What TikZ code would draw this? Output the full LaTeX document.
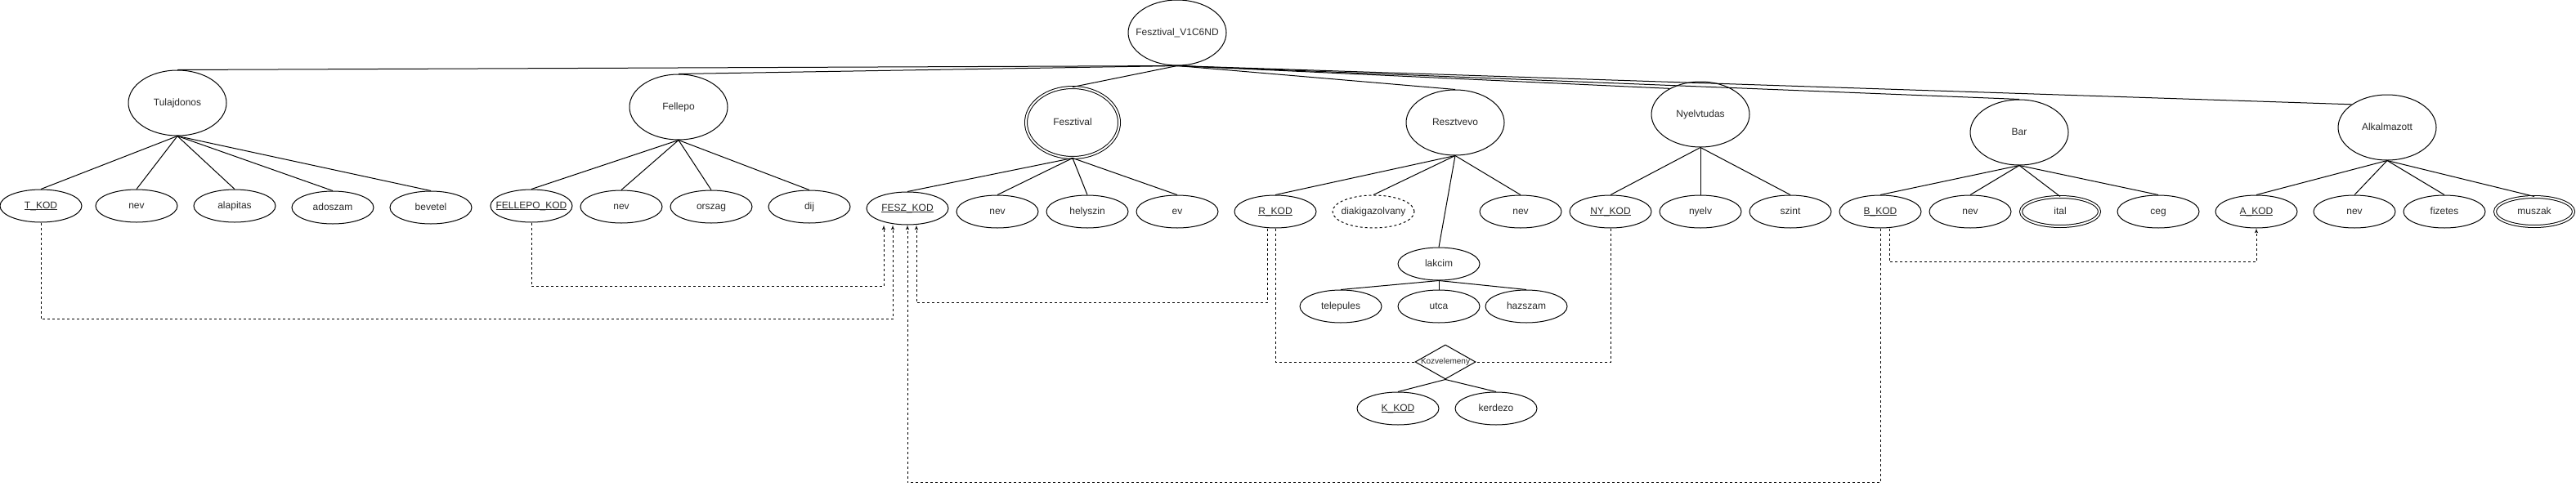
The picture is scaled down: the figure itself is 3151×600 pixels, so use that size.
\documentclass[tikz,border=0pt]{standalone}
\usepackage{fontspec}
\setmainfont{Liberation Sans}
\usetikzlibrary{arrows,shapes}
\definecolor{node_text}{RGB}{40,40,40}
\newcommand{\pk}[1]{\setbox0\hbox{#1}\rlap{\rule[-2.1pt]{\wd0}{0.8pt}}\box0}

\begin{document}
\begin{tikzpicture}[x=1pt,y=-1pt,line width=1pt,>=latex']
    \tikzstyle{flat}=[inner sep=0pt,text=node_text,text height=8.6pt,text depth=2.5pt,execute at begin node={\hbox to 0pt\bgroup\hss},execute at end node={\hss\egroup}]
    \tikzstyle{entity}=[style=flat, draw, ellipse, minimum width=120pt, minimum height=80pt, font=\fontsize{12}{14}\selectfont]
    \tikzstyle{weak}=[style=entity, double, double distance=2pt, minimum width=114pt, minimum height=86pt]
    \tikzstyle{attr}=[style=flat, draw, ellipse, minimum width=100pt, minimum height=40pt, font=\fontsize{12}{14}\selectfont]
    \tikzstyle{multi}=[style=attr, double, double distance=2pt, minimum width=96pt, minimum height=36pt]
    \tikzstyle{derived}=[style=attr, dash pattern=on 3pt off 3pt]
    \tikzstyle{relation}=[style=flat, draw, diamond, text height=7.2pt, text depth=2pt, minimum width=74pt, minimum height=42pt, font=\fontsize{10}{12}\selectfont]
    \tikzstyle{fk}=[dash pattern=on 3pt off 3pt]

    \useasboundingbox (0,0) rectangle (3151,600);

    % entities
    \node[entity] (Root)        at (1440,40)  {Fesztival\_V1C6ND};
    \node[entity] (Tulajdonos)  at (217,126)  {Tulajdonos};
    \node[entity] (Fellepo)     at (830,131)  {Fellepo};
    \node[weak]   (Fesztival)   at (1312,150) {Fesztival};
    \node[entity] (Resztvevo)   at (1780,150) {Resztvevo};
    \node[entity] (Nyelvtudas)  at (2080,140) {Nyelvtudas};
    \node[entity] (Bar)         at (2470,162) {Bar};
    \node[entity] (Alkalmazott) at (2920,156) {Alkalmazott};

    % attributes
    \node[attr]  (TKod)       at (50,252)   {\pk{T\_KOD}};
    \node[attr]  (TNev)       at (167,252)  {nev};
    \node[attr]  (Alapitas)   at (287,252)  {alapitas};
    \node[attr]  (Adoszam)    at (407,254)  {adoszam};
    \node[attr]  (Bevetel)    at (527,254)  {bevetel};
    \node[attr]  (FellepoKod) at (650,252)  {\pk{FELLEPO\_KOD}};
    \node[attr]  (FNev)       at (760,253)  {nev};
    \node[attr]  (Orszag)     at (870,253)  {orszag};
    \node[attr]  (Dij)        at (990,253)  {dij};
    \node[attr]  (FeszKod)    at (1110,255) {\pk{FESZ\_KOD}};
    \node[attr]  (FeNev)      at (1220,259) {nev};
    \node[attr]  (Helyszin)   at (1330,259) {helyszin};
    \node[attr]  (Ev)         at (1440,259) {ev};
    \node[attr]  (RKod)       at (1560,259) {\pk{R\_KOD}};
    \node[derived] (Diak)     at (1680,259) {diakigazolvany};
    \node[attr]  (RNev)       at (1860,259) {nev};
    \node[attr]  (Lakcim)     at (1760,323) {lakcim};
    \node[attr]  (Telepules)  at (1640,375) {telepules};
    \node[attr]  (Utca)       at (1760,375) {utca};
    \node[attr]  (Hazszam)    at (1867,375) {hazszam};
    \node[relation] (Kozv)    at (1768,443) {Kozvelemeny};
    \node[attr]  (KKod)       at (1710,500) {\pk{K\_KOD}};
    \node[attr]  (Kerdezo)    at (1830,500) {kerdezo};
    \node[attr]  (NyKod)      at (1970,259) {\pk{NY\_KOD}};
    \node[attr]  (Nyelv)      at (2080,259) {nyelv};
    \node[attr]  (Szint)      at (2190,259) {szint};
    \node[attr]  (BKod)       at (2300,259) {\pk{B\_KOD}};
    \node[attr]  (BNev)       at (2410,259) {nev};
    \node[multi] (Ital)       at (2520,259) {ital};
    \node[attr]  (Ceg)        at (2640,259) {ceg};
    \node[attr]  (AKod)       at (2760,259) {\pk{A\_KOD}};
    \node[attr]  (ANev)       at (2880,259) {nev};
    \node[attr]  (Fizetes)    at (2990,259) {fizetes};
    \node[multi] (Muszak)     at (3100,259) {muszak};

    % root to entities
    \path (Root.south) edge (Tulajdonos.north)
     (Root.south) edge (Fellepo.north)
     (Root.south) edge (Fesztival.north)
     (Root.south) edge (Resztvevo.north)
     (Root.south) edge (Nyelvtudas.140)
     (Root.south) edge (Bar.north)
     (Root.south) edge (Alkalmazott.147);

    % entities to attributes
    \path (Tulajdonos.south) edge (TKod.north)
     (Tulajdonos.south) edge (TNev.north)
     (Tulajdonos.south) edge (Alapitas.north)
     (Tulajdonos.south) edge (Adoszam.north)
     (Tulajdonos.south) edge (Bevetel.north)
     (Fellepo.south) edge (FellepoKod.north)
     (Fellepo.south) edge (FNev.north)
     (Fellepo.south) edge (Orszag.north)
     (Fellepo.south) edge (Dij.north)
     (Fesztival.south) edge (FeszKod.north)
     (Fesztival.south) edge (FeNev.north)
     (Fesztival.south) edge (Helyszin.north)
     (Fesztival.south) edge (Ev.north)
     (Resztvevo.south) edge (RKod.north)
     (Resztvevo.south) edge (Diak.north)
     (Resztvevo.south) edge (Lakcim.north)
     (Resztvevo.south) edge (RNev.north)
     (Lakcim.south) edge (Telepules.north)
     (Lakcim.south) edge (Utca.north)
     (Lakcim.south) edge (Hazszam.north)
     (Kozv.south) edge (KKod.north)
     (Kozv.south) edge (Kerdezo.north)
     (Nyelvtudas.south) edge (NyKod.north)
     (Nyelvtudas.south) edge (Nyelv.north)
     (Nyelvtudas.south) edge (Szint.north)
     (Bar.south) edge (BKod.north)
     (Bar.south) edge (BNev.north)
     (Bar.south) edge (Ital.north)
     (Bar.south) edge (Ceg.north)
     (Alkalmazott.south) edge (AKod.north)
     (Alkalmazott.south) edge (ANev.north)
     (Alkalmazott.south) edge (Fizetes.north)
     (Alkalmazott.south) edge (Muszak.north);

    % foreign keys
    \draw[fk,->] (TKod.south) -- ++(0,118) -| ([xshift=-18pt]FeszKod.south);
    \draw[fk,->] (FellepoKod.south) -- ++(0,78) -| ([xshift=-29pt]FeszKod.south);
    \draw[fk,->] ([xshift=-10pt]RKod.south) -- ++(0,91) -| ([xshift=11pt]FeszKod.south);
    \draw[fk,->] (BKod.south) -- ++(0,311) -| (FeszKod.south);
    \draw[fk,->] ([xshift=11pt]BKod.south) -- ++(0,41) -| (AKod.south);
    \draw[fk] (RKod.south) |- (Kozv.west);
    \draw[fk] (NyKod.south) |- (Kozv.east);
\end{tikzpicture}
\end{document}
